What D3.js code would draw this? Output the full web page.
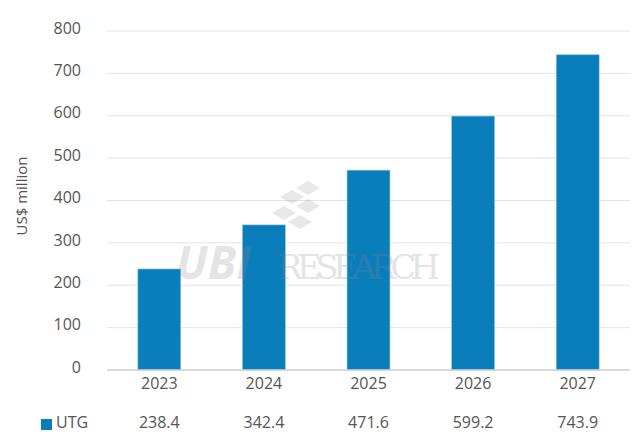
<!DOCTYPE html>
<html>
<head>
<meta charset="utf-8">
<script src="https://cdn.jsdelivr.net/npm/d3@7"></script>
<style>
  body { margin: 0; background: #fff; }
  text { font-family: "Open Sans", "Noto Sans", sans-serif; fill: #555; }
</style>
</head>
<body>
<div id="chart"></div>
<script>
var years = ['2023', '2024', '2025', '2026', '2027'];
var utg = [238.4, 342.4, 471.6, 599.2, 743.9];
var yTicks = [0, 100, 200, 300, 400, 500, 600, 700, 800];
var seriesName = 'UTG';

var width = 640, height = 444;
var svg = d3.select('#chart').append('svg')
	.attr('width', width)
	.attr('height', height);

var x = d3.scaleBand()
	.domain(years)
	.range([107, 630])
	.paddingInner(0.59)
	.paddingOuter(0.295);

var y = d3.scaleLinear()
	.domain([0, 800])
	.range([370, 31]);

// gridlines
svg.append('g')
	.selectAll('line')
	.data(yTicks.slice(1))
	.enter().append('line')
	.attr('x1', 107)
	.attr('x2', 630)
	.attr('y1', function(d) { return y(d); })
	.attr('y2', function(d) { return y(d); })
	.attr('stroke', '#e4e4e4')
	.attr('stroke-width', 1);

// y axis labels
var yAxis = d3.axisLeft(y).tickValues(yTicks).tickSize(0).tickPadding(0);
var yAxisG = svg.append('g')
	.attr('transform', 'translate(81,-3)')
	.call(yAxis);
yAxisG.select('.domain').remove();
yAxisG.selectAll('text')
	.style('font-size', '16px')
	.attr('fill', '#555');

svg.append('text')
	.attr('transform', 'translate(27,196) rotate(-90)')
	.attr('text-anchor', 'middle')
	.style('font-size', '15px')
	.text('US$ million');

// bars
svg.append('g')
	.selectAll('rect')
	.data(utg)
	.enter().append('rect')
	.attr('x', function(d, i) { return x(years[i]); })
	.attr('width', x.bandwidth())
	.attr('y', function(d) { return y(d); })
	.attr('height', function(d) { return y(0) - y(d); })
	.attr('fill', '#0a7dbb')
	.attr('stroke', '#8cc3e3')
	.attr('stroke-width', 0.6);

// x axis
var xAxis = d3.axisBottom(x).tickSize(0).tickPadding(8);
var xAxisG = svg.append('g')
	.attr('transform', 'translate(0,370)')
	.call(xAxis);
xAxisG.select('.domain')
	.attr('d', 'M107,0H630')
	.attr('stroke', '#cfcfcf')
	.attr('stroke-width', 1.5);
xAxisG.selectAll('text')
	.style('font-size', '16px')
	.attr('fill', '#555');

// watermark
var wm = svg.append('g').attr('opacity', 0.22);
var cube = [[0, 0], [12, -7], [24, 0], [12, 7]];
[[280, 197], [296, 188], [296, 206], [272, 213], [288, 222]].forEach(function(p) {
	wm.append('path')
		.attr('d', d3.line()(cube.map(function(c) { return [c[0] + p[0], c[1] + p[1]]; })) + 'Z')
		.attr('fill', '#999');
});
wm.append('text')
	.attr('x', 176)
	.attr('y', 279)
	.style('font-size', '46px')
	.style('font-weight', 'bold')
	.style('font-style', 'italic')
	.style('fill', '#888')
	.text('UBI');
wm.append('text')
	.attr('x', 277)
	.attr('y', 279)
	.style('font-family', '"DejaVu Serif", "Liberation Serif", serif')
	.style('font-size', '34px')
	.style('fill', '#888')
	.attr('textLength', 163)
	.text('RESEARCH');

// data table row
var row = svg.append('g').attr('transform', 'translate(0,422)');
row.append('rect')
	.attr('x', 41)
	.attr('y', -3)
	.attr('width', 11)
	.attr('height', 11)
	.attr('fill', '#0a7dbb');
row.append('text')
	.attr('x', 56)
	.attr('y', 6)
	.style('font-size', '16px')
	.text(seriesName);
row.selectAll('.val')
	.data(utg)
	.enter().append('text')
	.attr('class', 'val')
	.attr('x', function(d, i) { return x(years[i]) + x.bandwidth() / 2; })
	.attr('y', 6)
	.attr('text-anchor', 'middle')
	.style('font-size', '16px')
	.text(function(d) { return d.toFixed(1); });
</script>
</body>
</html>
